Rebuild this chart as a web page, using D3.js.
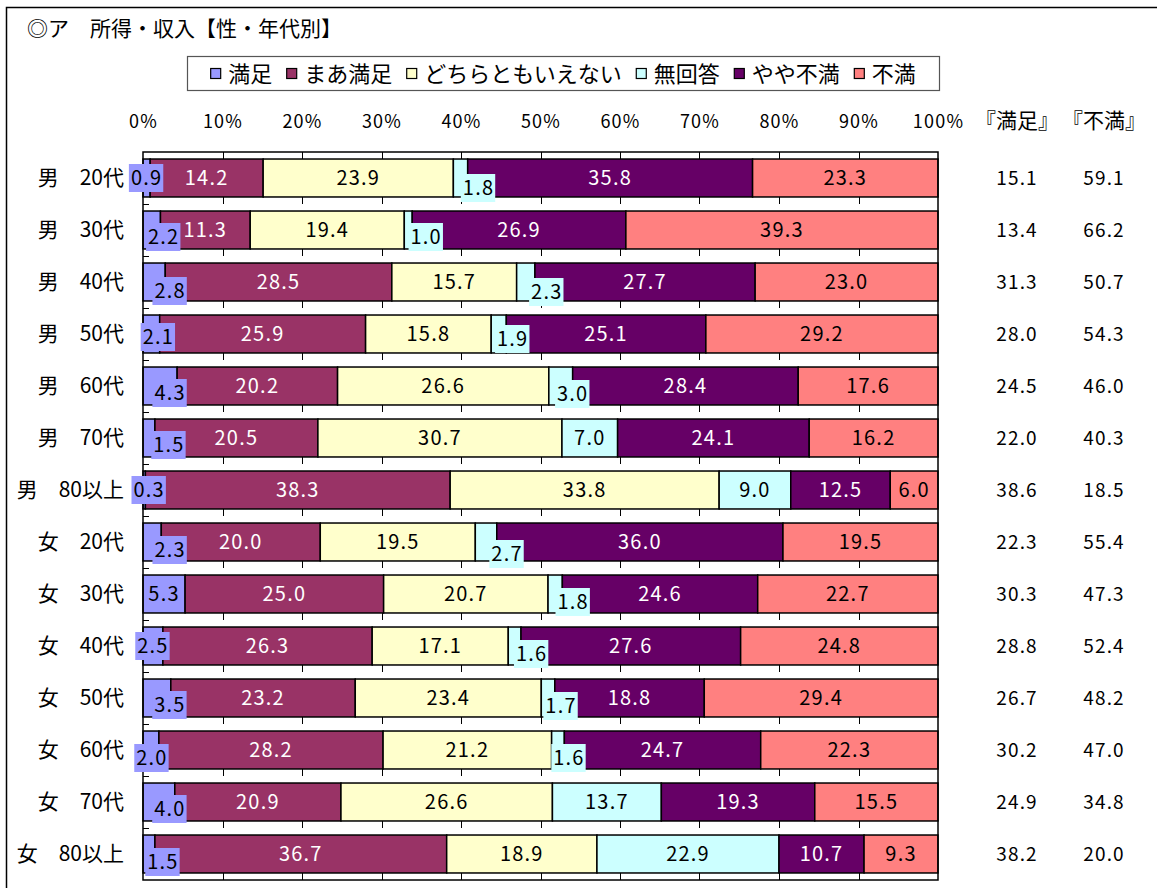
<!DOCTYPE html>
<html lang="ja">
<head>
<meta charset="utf-8">
<script src="https://cdn.jsdelivr.net/npm/d3@7"></script>
<style>
  html, body { margin: 0; padding: 0; background: #fff; }
  svg { display: block; font-family: "Noto Sans CJK JP", "Noto Sans", sans-serif; }
</style>
</head>
<body>
<svg id="chart" width="1157" height="888"></svg>
<script>
// 所得・収入の満足度（性・年代別）
const categories = ["男　20代", "男　30代", "男　40代", "男　50代", "男　60代", "男　70代", "男　80以上",
                    "女　20代", "女　30代", "女　40代", "女　50代", "女　60代", "女　70代", "女　80以上"];
const seriesNames = ["満足", "まあ満足", "どちらともいえない", "無回答", "やや不満", "不満"];

const manzoku      = [0.9, 2.2, 2.8, 2.1, 4.3, 1.5, 0.3, 2.3, 5.3, 2.5, 3.5, 2.0, 4.0, 1.5];
const maaManzoku   = [14.2, 11.3, 28.5, 25.9, 20.2, 20.5, 38.3, 20.0, 25.0, 26.3, 23.2, 28.2, 20.9, 36.7];
const dochiramo    = [23.9, 19.4, 15.7, 15.8, 26.6, 30.7, 33.8, 19.5, 20.7, 17.1, 23.4, 21.2, 26.6, 18.9];
const mukaitou     = [1.8, 1.0, 2.3, 1.9, 3.0, 7.0, 9.0, 2.7, 1.8, 1.6, 1.7, 1.6, 13.7, 22.9];
const yayaFuman    = [35.8, 26.9, 27.7, 25.1, 28.4, 24.1, 12.5, 36.0, 24.6, 27.6, 18.8, 24.7, 19.3, 10.7];
const fuman        = [23.3, 39.3, 23.0, 29.2, 17.6, 16.2, 6.0, 19.5, 22.7, 24.8, 29.4, 22.3, 15.5, 9.3];

// 『満足』『不満』 合計列
const manzokuTotal = [15.1, 13.4, 31.3, 28.0, 24.5, 22.0, 38.6, 22.3, 30.3, 28.8, 26.7, 30.2, 24.9, 38.2];
const fumanTotal   = [59.1, 66.2, 50.7, 54.3, 46.0, 40.3, 18.5, 55.4, 47.3, 52.4, 48.2, 47.0, 34.8, 20.0];

const tickLabels = ["0%", "10%", "20%", "30%", "40%", "50%", "60%", "70%", "80%", "90%", "100%"];

const colors = ["#9999FF", "#993366", "#FFFFCC", "#CCFFFF", "#660066", "#FF8080"];
const textColors = ["#000", "#fff", "#000", "#000", "#fff", "#000"];
// series whose labels carry a filled background box
const boxedSeries = [true, false, false, true, false, false];

// small nudges for labels of narrow segments: "row,series" -> [dx, dy]
const labelNudge = {
  "1,0": [12, 7], "2,0": [16, 9], "3,0": [7, 3], "4,0": [10, 7], "5,0": [20, 7], "6,0": [5, 0],
  "7,0": [18, 8], "10,0": [13, 7], "11,0": [1, 8], "12,0": [11, 7], "13,0": [14, 8],
  "0,3": [18, 10], "1,3": [18, 7], "2,3": [21, 10], "3,3": [14, 5], "4,3": [12, 8],
  "7,3": [21, 12], "8,3": [18, 8], "9,3": [17, 8], "10,3": [13, 8], "11,3": [11, 8]
};

const valueLists = [manzoku, maaManzoku, dochiramo, mukaitou, yayaFuman, fuman];
const rows = categories.map((c, i) => {
  const r = { cat: c };
  seriesNames.forEach((s, k) => r[s] = valueLists[k][i]);
  return r;
});

const svg = d3.select("#chart");
const NUM_SPACING = "1.2px";

// outer frame
svg.append("rect")
  .attr("x", 6.5).attr("y", 7.5).attr("width", 1160).attr("height", 890)
  .attr("fill", "none").attr("stroke", "#000").attr("stroke-width", 1.5);

// title
svg.append("text")
  .attr("x", 27).attr("y", 36)
  .attr("font-size", 21).attr("fill", "#000")
  .text("◎ア　所得・収入【性・年代別】");

// scales
const plot = { left: 143, right: 938, top: 152, bottom: 880 };
const x = d3.scaleLinear().domain([0, 1]).range([plot.left, plot.right]);
const y = d3.scaleBand().domain(categories).range([plot.top, plot.bottom])
  .paddingInner(0.27).paddingOuter(0.135);

const stacked = d3.stack().keys(seriesNames).offset(d3.stackOffsetExpand)(rows);

// gridlines: visible from plot top to first bar, and below each bar down to the row boundary
const grid = svg.append("g").attr("stroke", "#000").attr("stroke-width", 1);
const gap = (y.step() - y.bandwidth()) / 2;
const ticks = d3.range(1, 10).map(d => d / 10);
ticks.forEach(t => {
  grid.append("line").attr("x1", Math.round(x(t)) + 0.5).attr("x2", Math.round(x(t)) + 0.5)
    .attr("y1", plot.top).attr("y2", y(categories[0]));
  categories.forEach(c => {
    grid.append("line").attr("x1", Math.round(x(t)) + 0.5).attr("x2", Math.round(x(t)) + 0.5)
      .attr("y1", y(c) + y.bandwidth()).attr("y2", y(c) + y.bandwidth() + gap);
  });
});

// category tick marks on the left axis
categories.forEach((c, i) => {
  if (i === 0) return;
  const yy = Math.round(y(c) - gap) + 0.5;
  svg.append("line").attr("x1", plot.left).attr("x2", plot.left + 6)
    .attr("y1", yy).attr("y2", yy).attr("stroke", "#000").attr("stroke-width", 1);
});

// bars
const barG = svg.append("g");
stacked.forEach((layer, k) => {
  barG.selectAll(null).data(layer).enter().append("rect")
    .attr("x", d => x(d[0]))
    .attr("y", d => y(d.data.cat))
    .attr("width", d => x(d[1]) - x(d[0]))
    .attr("height", y.bandwidth())
    .attr("fill", colors[k])
    .attr("stroke", "#000").attr("stroke-width", 1.5);
});

// plot area border
svg.append("rect")
  .attr("x", plot.left).attr("y", plot.top)
  .attr("width", plot.right - plot.left).attr("height", plot.bottom - plot.top)
  .attr("fill", "none").attr("stroke", "#000").attr("stroke-width", 1.5);

// x axis tick labels (top)
const xAxis = d3.axisTop(x).tickValues(d3.range(0, 11).map(d => d / 10))
  .tickFormat((d, i) => tickLabels[i]).tickSize(0).tickPadding(0);
svg.append("g").attr("transform", "translate(0,128)").call(xAxis)
  .call(g => g.select(".domain").remove())
  .selectAll("text").attr("font-size", 18).attr("fill", "#000")
  .attr("letter-spacing", NUM_SPACING)
  .attr("font-family", "'Noto Sans CJK JP', sans-serif");

// category labels
const yAxis = d3.axisLeft(y).tickSize(0).tickPadding(0);
svg.append("g").attr("transform", "translate(124,0)").call(yAxis)
  .call(g => g.select(".domain").remove())
  .selectAll("text").attr("font-size", 21).attr("fill", "#000")
  .attr("font-family", "'Noto Sans CJK JP', sans-serif");

// segment labels
const labelG = svg.append("g");
stacked.forEach((layer, k) => {
  layer.forEach((d, i) => {
    const nudge = labelNudge[i + "," + k] || [0, 0];
    const cx = (x(d[0]) + x(d[1])) / 2 + nudge[0];
    const cy = y(d.data.cat) + y.bandwidth() / 2 + nudge[1];
    const g = labelG.append("g");
    const t = g.append("text")
      .attr("x", cx).attr("y", cy).attr("dy", "0.36em")
      .attr("text-anchor", "middle")
      .attr("font-size", 20).attr("fill", textColors[k])
      .attr("letter-spacing", NUM_SPACING)
      .text(valueLists[k][i].toFixed(1));
    if (boxedSeries[k]) {
      const w = t.node().getComputedTextLength();
      g.insert("rect", "text")
        .attr("x", cx - w / 2 - 2).attr("y", cy - 14)
        .attr("width", w + 3).attr("height", 28)
        .attr("fill", colors[k]);
    }
  });
});

// legend
const legend = svg.append("g");
legend.append("rect")
  .attr("x", 187.5).attr("y", 56.5).attr("width", 752).attr("height", 34)
  .attr("fill", "#fff").attr("stroke", "#555").attr("stroke-width", 1.2);
let lx = 0;
const items = legend.append("g");
seriesNames.forEach((s, k) => {
  const it = items.append("g").attr("transform", `translate(${lx},0)`);
  it.append("rect").attr("x", 0.5).attr("y", 68.5).attr("width", 10).attr("height", 10)
    .attr("fill", colors[k]).attr("stroke", "#000").attr("stroke-width", 1.2);
  const t = it.append("text").attr("x", 18).attr("y", 82).attr("font-size", 22).attr("fill", "#000").text(s);
  lx += 18 + t.node().getComputedTextLength() + 14;
});
const totalW = lx - 14;
items.attr("transform", `translate(${187 + (752 - totalW) / 2},0)`);

// summary columns
const colManzoku = 1017, colFuman = 1104;
svg.append("text").attr("x", colManzoku).attr("y", 128).attr("text-anchor", "middle")
  .attr("font-size", 21).text("『満足』");
svg.append("text").attr("x", colFuman).attr("y", 128).attr("text-anchor", "middle")
  .attr("font-size", 21).text("『不満』");
categories.forEach((c, i) => {
  const cy = y(c) + y.bandwidth() / 2;
  svg.append("text").attr("x", colManzoku).attr("y", cy).attr("dy", "0.36em")
    .attr("text-anchor", "middle").attr("font-size", 19).attr("letter-spacing", NUM_SPACING)
    .text(manzokuTotal[i].toFixed(1));
  svg.append("text").attr("x", colFuman).attr("y", cy).attr("dy", "0.36em")
    .attr("text-anchor", "middle").attr("font-size", 19).attr("letter-spacing", NUM_SPACING)
    .text(fumanTotal[i].toFixed(1));
});
</script>
</body>
</html>
